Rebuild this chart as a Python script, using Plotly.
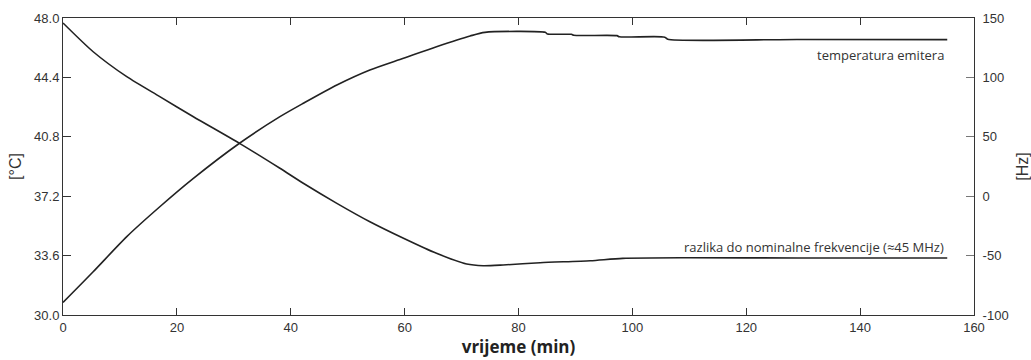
import plotly.graph_objects as go

# Temperature of emitter (°C), left axis
t_temp = [0, 5.3, 11.2, 17.0, 22.9, 31.0, 38.1, 42.2, 48.1, 53.9, 59.8, 65.6, 71.5, 74.1,
          84.7, 85.1, 89.3, 89.7, 97.3, 97.7, 105.7, 106.2, 129.0, 155.3]
temp = [30.76, 32.62, 34.75, 36.56, 38.28, 40.41, 42.02, 42.83, 43.94, 44.85, 45.56, 46.26,
        46.91, 47.13, 47.13, 47.03, 47.01, 46.95, 46.93, 46.86, 46.84, 46.71, 46.70, 46.69]

# Difference to nominal frequency (Hz), right axis
t_freq = [0, 5.3, 11.2, 17.0, 22.9, 31.0, 38.1, 42.2, 48.1, 53.9, 59.8, 65.6, 70.9, 73.8,
          77.3, 83.8, 92.6, 98.3, 110.1, 129.0, 155.3]
freq = [145.8, 121.6, 100.6, 83.8, 66.9, 44.5, 23.5, 10.9, -6.0, -21.5, -35.4, -48.1, -57.1,
        -58.5, -57.9, -56.0, -54.3, -52.3, -51.8, -52.0, -52.0]

x_ticks = [0, 20, 40, 60, 80, 100, 120, 140, 160]
y1_ticks = [30.0, 33.6, 37.2, 40.8, 44.4, 48.0]
y2_ticks = [-100, -50, 0, 50, 100, 150]

line_col = "#222222"
axis_col = "#333333"
tick_font = dict(family="Liberation Sans, Arial", size=13, color="#333333")

fig = go.Figure()
fig.add_trace(go.Scatter(x=t_temp, y=temp, mode="lines", yaxis="y",
                         line=dict(color=line_col, width=1.6, shape="spline", smoothing=0.7),
                         showlegend=False))
fig.add_trace(go.Scatter(x=t_freq, y=freq, mode="lines", yaxis="y2",
                         line=dict(color=line_col, width=1.6, shape="spline", smoothing=0.7),
                         showlegend=False))

fig.update_layout(
    width=1031, height=360,
    margin=dict(l=63, r=57, t=18, b=45),
    paper_bgcolor="white", plot_bgcolor="white",
    xaxis=dict(range=[0, 160], tickvals=x_ticks, ticktext=[str(v) for v in x_ticks],
               automargin=False,
               showgrid=False, zeroline=False, showline=True, linecolor=axis_col, linewidth=1,
               mirror="ticks", ticks="inside", ticklen=7, tickcolor=axis_col,
               tickfont=tick_font,
               title=dict(text="<b>vrijeme (min)</b>", standoff=6,
                          font=dict(family="Open Sans", size=17, color="#222222"))),
    yaxis=dict(range=[30, 48], tickvals=y1_ticks, ticktext=[f"{v:.1f}" for v in y1_ticks],
               automargin=False,
               showgrid=False, zeroline=False, showline=True, linecolor=axis_col, linewidth=1,
               mirror=True, ticks="inside", ticklen=8, tickcolor=axis_col,
               tickfont=tick_font,
               title=dict(text="[°C]", standoff=8,
                          font=dict(family="Liberation Sans, Arial", size=16, color="#333333"))),
    yaxis2=dict(range=[-100, 150], tickvals=y2_ticks, ticktext=[str(v) for v in y2_ticks],
                overlaying="y", side="right", anchor="x", automargin=False,
                showgrid=False, zeroline=False, showline=True, linecolor=axis_col, linewidth=1,
                ticks="inside", ticklen=8, tickcolor="#777777",
                tickfont=tick_font, ticklabelstandoff=5,
                title=dict(text="[Hz]", standoff=10,
                           font=dict(family="Liberation Sans, Arial", size=16, color="#333333"))),
    annotations=[
        dict(text="temperatura emitera", x=155.1, y=0.875, xref="x", yref="paper",
             xanchor="right", yanchor="middle", showarrow=False,
             font=dict(family="Open Sans", size=13, color="#333333")),
        dict(text="razlika do nominalne frekvencije (≈45 MHz)", x=155.1, y=0.229,
             xref="x", yref="paper", xanchor="right", yanchor="middle", showarrow=False,
             font=dict(family="Open Sans", size=13, color="#333333")),
    ],
)

fig.write_html("out.html")
